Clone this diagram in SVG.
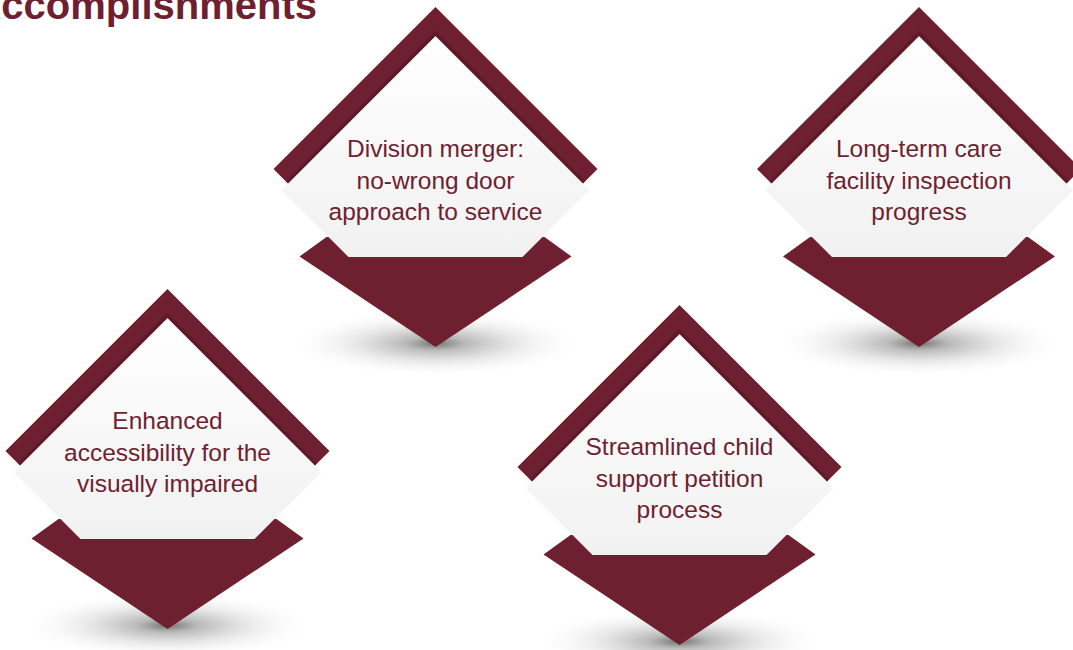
<svg xmlns="http://www.w3.org/2000/svg" xmlns:xlink="http://www.w3.org/1999/xlink" width="1073" height="650" viewBox="0 0 1073 650">
  <style>
    .dark { fill: #6e1f30; }
    .lbl { font-family: "Liberation Sans", Arial, sans-serif; font-size: 24.5px; fill: #6e1f30; text-anchor: middle; }
    .title { font-family: "Liberation Sans", Arial, sans-serif; font-size: 40px; font-weight: bold; fill: #6e1f30; text-anchor: end; }
  </style>
  <defs>
    <radialGradient id="groundShadow" cx="0.5" cy="0.55" r="0.5">
      <stop offset="0" stop-color="#6a6a6a" stop-opacity="0.95"/>
      <stop offset="0.2" stop-color="#a8a8a8" stop-opacity="0.8"/>
      <stop offset="0.55" stop-color="#dcdcdc" stop-opacity="0.6"/>
      <stop offset="1" stop-color="#ffffff" stop-opacity="0"/>
    </radialGradient>
    <linearGradient id="cardFill" x1="0" y1="0" x2="0" y2="1">
      <stop offset="0" stop-color="#ffffff"/>
      <stop offset="1" stop-color="#f1f1f1"/>
    </linearGradient>
    <radialGradient id="cardShadow" cx="0.5" cy="1" r="0.5">
      <stop offset="0" stop-color="#6f6f6f" stop-opacity="0.9"/>
      <stop offset="0.5" stop-color="#b0b0b0" stop-opacity="0.5"/>
      <stop offset="1" stop-color="#f1f1f1" stop-opacity="0"/>
    </radialGradient>
    <clipPath id="cardClip">
      <polygon points="0,36 154,190 87,257 -87,257 -154,190"/>
    </clipPath>
    <clipPath id="bandClip">
      <polygon points="0,7 162,169 147.5,183.5 0,36 -147.5,183.5 -162,169"/>
    </clipPath>
    <g id="diamond">
      <ellipse cx="0" cy="340" rx="150" ry="34" fill="url(#groundShadow)"/>
      <polygon class="dark" points="-109,237 -136,256.5 0,347 136,256.5 109,237"/>
      <polygon points="0,36 154,190 87,257 -87,257 -154,190" fill="url(#cardFill)"/>
      <ellipse cx="0" cy="258" rx="100" ry="16" fill="url(#cardShadow)" clip-path="url(#cardClip)"/>
      <polygon class="dark" points="0,7 162,169 147.5,183.5 0,36 -147.5,183.5 -162,169"/>
      <polyline points="-150,186.5 0,36 150,186.5" fill="none" stroke="#4a1120" stroke-opacity="0.45" stroke-width="7" clip-path="url(#bandClip)"/>
    </g>
  </defs>

  <text class="title" x="317" y="19">Accomplishments</text>

  <g id="connectors"></g>

  <g id="node-division-merger">
    <use xlink:href="#diamond" href="#diamond" transform="translate(435.5,0)"/>
    <text class="lbl" x="435.5" y="157">Division merger:</text>
    <text class="lbl" x="435.5" y="188.5">no-wrong door</text>
    <text class="lbl" x="435.5" y="220">approach to service</text>
  </g>

  <g id="node-long-term-care">
    <use xlink:href="#diamond" href="#diamond" transform="translate(919,0)"/>
    <text class="lbl" x="919" y="157">Long-term care</text>
    <text class="lbl" x="919" y="188.5">facility inspection</text>
    <text class="lbl" x="919" y="220">progress</text>
  </g>

  <g id="node-accessibility">
    <use xlink:href="#diamond" href="#diamond" transform="translate(167.5,282)"/>
    <text class="lbl" x="167.5" y="429">Enhanced</text>
    <text class="lbl" x="167.5" y="460.5">accessibility for the</text>
    <text class="lbl" x="167.5" y="492">visually impaired</text>
  </g>

  <g id="node-child-support">
    <use xlink:href="#diamond" href="#diamond" transform="translate(679.5,298)"/>
    <text class="lbl" x="679.5" y="455">Streamlined child</text>
    <text class="lbl" x="679.5" y="486.5">support petition</text>
    <text class="lbl" x="679.5" y="518">process</text>
  </g>
</svg>
